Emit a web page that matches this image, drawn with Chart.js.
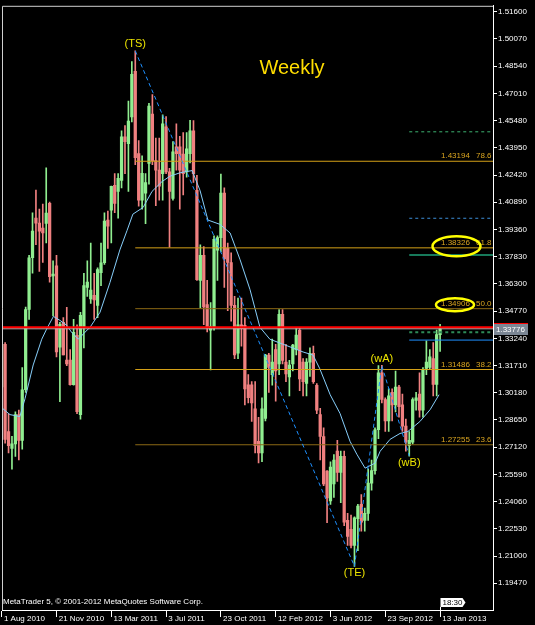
<!DOCTYPE html>
<html>
<head>
<meta charset="utf-8">
<title>EURUSD Weekly</title>
<script src="https://cdn.jsdelivr.net/npm/chart.js@4.4.1/dist/chart.umd.min.js"></script>
<style>
  html, body { margin: 0; padding: 0; background: #000; }
  canvas { display: block; }
</style>
</head>
<body>
<canvas id="chart" width="535" height="625"></canvas>
<script>
// weekly bars, bar 0 = week of 1 Aug 2010, bar 128 = week of 13 Jan 2013
const opens = [
  1.3050, 1.3290, 1.2800, 1.2705, 1.2730, 1.2895, 1.2750, 1.3035, 1.3486, 1.3777,
  1.4000, 1.3972, 1.3944, 1.3970, 1.4083, 1.3675, 1.3732, 1.3274, 1.3414, 1.3202,
  1.3202, 1.3063, 1.3341, 1.2895, 1.3390, 1.3610, 1.3545, 1.3565, 1.3509, 1.3693,
  1.3749, 1.3989, 1.4044, 1.4184, 1.4150, 1.4212, 1.4457, 1.4418, 1.4569, 1.4825,
  1.4362, 1.4100, 1.4140, 1.4307, 1.4585, 1.4323, 1.4270, 1.4250, 1.4513, 1.4260,
  1.4111, 1.4401, 1.4400, 1.4360, 1.4260, 1.4362, 1.4491, 1.4156, 1.3650, 1.3790,
  1.3514, 1.3370, 1.3386, 1.3820, 1.3890, 1.4140, 1.3830, 1.3750, 1.3509, 1.3240,
  1.3400, 1.3397, 1.3063, 1.3063, 1.2928, 1.2745, 1.2680, 1.2873, 1.3230, 1.3120,
  1.3260, 1.3180, 1.3459, 1.3191, 1.3107, 1.3180, 1.3260, 1.3369, 1.3190, 1.3070,
  1.3190, 1.3240, 1.3060, 1.2895, 1.2772, 1.2577, 1.2410, 1.2505, 1.2690, 1.2570,
  1.2660, 1.2300, 1.2250, 1.2160, 1.2310, 1.2390, 1.2300, 1.2340, 1.2510, 1.2580,
  1.2810, 1.3130, 1.2980, 1.2860, 1.3020, 1.2950, 1.3050, 1.2950, 1.2830, 1.2720,
  1.2740, 1.2975, 1.3010, 1.2920, 1.3155, 1.3160, 1.3210, 1.3065, 1.3345
];
const highs = [
  1.3333, 1.3300, 1.2900, 1.2773, 1.2910, 1.2920, 1.3160, 1.3500, 1.3790, 1.4030,
  1.4157, 1.4050, 1.4078, 1.4282, 1.4090, 1.3760, 1.3790, 1.3414, 1.3440, 1.3498,
  1.3260, 1.3430, 1.3400, 1.3470, 1.3690, 1.3760, 1.3860, 1.3690, 1.3720, 1.3860,
  1.4030, 1.4040, 1.4180, 1.4250, 1.4250, 1.4490, 1.4520, 1.4658, 1.4880, 1.4940,
  1.4435, 1.4350, 1.4250, 1.4645, 1.4695, 1.4450, 1.4450, 1.4580, 1.4570, 1.4280,
  1.4430, 1.4530, 1.4460, 1.4480, 1.4480, 1.4550, 1.4548, 1.4240, 1.3850, 1.3840,
  1.3650, 1.3525, 1.3900, 1.3900, 1.4247, 1.4170, 1.3860, 1.3805, 1.3560, 1.3550,
  1.3550, 1.3440, 1.3120, 1.3080, 1.3080, 1.2880, 1.2990, 1.3234, 1.3240, 1.3320,
  1.3290, 1.3486, 1.3486, 1.3290, 1.3200, 1.3290, 1.3385, 1.3385, 1.3210, 1.3210,
  1.3270, 1.3280, 1.3070, 1.2930, 1.2820, 1.2580, 1.2630, 1.2670, 1.2750, 1.2690,
  1.2690, 1.2340, 1.2330, 1.2320, 1.2390, 1.2445, 1.2370, 1.2590, 1.2640, 1.2820,
  1.3170, 1.3172, 1.2990, 1.3040, 1.3040, 1.3140, 1.3060, 1.3010, 1.2870, 1.2800,
  1.2990, 1.3020, 1.3130, 1.3160, 1.3310, 1.3260, 1.3300, 1.3370, 1.3403
];
const lows = [
  1.3040, 1.2735, 1.2680, 1.2588, 1.2660, 1.2640, 1.2700, 1.3020, 1.3430, 1.3690,
  1.3850, 1.3700, 1.3750, 1.3860, 1.3640, 1.3450, 1.3220, 1.2968, 1.3230, 1.3170,
  1.3060, 1.3060, 1.2900, 1.2870, 1.3270, 1.3560, 1.3520, 1.3430, 1.3440, 1.3620,
  1.3740, 1.3830, 1.3860, 1.4030, 1.4000, 1.4170, 1.4250, 1.4150, 1.4540, 1.4300,
  1.4067, 1.4050, 1.3968, 1.4190, 1.4300, 1.4070, 1.4100, 1.4100, 1.4250, 1.3837,
  1.4100, 1.4270, 1.4050, 1.4130, 1.4230, 1.4310, 1.4200, 1.3650, 1.3495, 1.3400,
  1.3360, 1.3146, 1.3370, 1.3650, 1.3810, 1.3610, 1.3480, 1.3420, 1.3210, 1.3210,
  1.3280, 1.2950, 1.2960, 1.2856, 1.2680, 1.2624, 1.2630, 1.2860, 1.3020, 1.3060,
  1.2970, 1.3120, 1.3180, 1.3080, 1.3000, 1.3140, 1.3230, 1.3030, 1.3000, 1.3000,
  1.3110, 1.3070, 1.2900, 1.2640, 1.2495, 1.2288, 1.2390, 1.2430, 1.2520, 1.2400,
  1.2270, 1.2160, 1.2145, 1.2042, 1.2130, 1.2240, 1.2240, 1.2300, 1.2470, 1.2560,
  1.2760, 1.2960, 1.2800, 1.2800, 1.2860, 1.2910, 1.2880, 1.2800, 1.2690, 1.2662,
  1.2730, 1.2920, 1.2880, 1.2880, 1.3120, 1.3150, 1.3000, 1.3000, 1.3250
];
const closes = [
  1.3290, 1.2756, 1.2720, 1.2730, 1.2895, 1.2750, 1.3035, 1.3486, 1.3777, 1.3927,
  1.3972, 1.3927, 1.3916, 1.4028, 1.3670, 1.3685, 1.3247, 1.3403, 1.3230, 1.3180,
  1.3063, 1.3358, 1.2912, 1.3453, 1.3620, 1.3640, 1.3595, 1.3540, 1.3710, 1.3749,
  1.3983, 1.3955, 1.4178, 1.4083, 1.4223, 1.4457, 1.4430, 1.4546, 1.4808, 1.4340,
  1.4100, 1.4251, 1.4200, 1.4630, 1.4323, 1.4270, 1.4180, 1.4530, 1.4260, 1.4150,
  1.4373, 1.4362, 1.4270, 1.4250, 1.4390, 1.4491, 1.4250, 1.3654, 1.3790, 1.3500,
  1.3386, 1.3390, 1.3880, 1.3890, 1.4140, 1.3770, 1.3750, 1.3509, 1.3230, 1.3400,
  1.3380, 1.3040, 1.2990, 1.2960, 1.2720, 1.2680, 1.2928, 1.3230, 1.3160, 1.3190,
  1.3140, 1.3459, 1.3200, 1.3124, 1.3174, 1.3286, 1.3342, 1.3096, 1.3080, 1.3190,
  1.3240, 1.3080, 1.2920, 1.2772, 1.2505, 1.2427, 1.2600, 1.2640, 1.2570, 1.2660,
  1.2290, 1.2210, 1.2160, 1.2315, 1.2380, 1.2290, 1.2340, 1.2510, 1.2580, 1.2810,
  1.3130, 1.2980, 1.2860, 1.3000, 1.2950, 1.3050, 1.2940, 1.2830, 1.2740, 1.2750,
  1.2980, 1.2990, 1.2920, 1.3150, 1.3190, 1.3220, 1.3065, 1.3345, 1.33776
];

// moving average (bar index, price)
const maIdx = [0, 2.4, 5.3, 6.8, 9.2, 11.7, 13.1, 15.1, 17.0, 19.0, 20.4, 22.4, 24.3,
  25.8, 28.7, 31.6, 34.5, 36.6, 38.3, 41.3, 43.9, 46.8, 49.1, 52.1, 55.6, 57.9,
  60.2, 63.7, 66.7, 69.6, 72.5, 75.4, 78.3, 82.1, 85.1, 88.0, 90.9, 92.9, 95.9,
  98.8, 101.7, 103.7, 106.1, 109.0, 110.5, 113.4, 116.3, 118.6, 122.1, 125.1, 127.7];
const maVals = [1.2934, 1.2895, 1.2884, 1.2984, 1.3174, 1.3319, 1.3375, 1.3447, 1.3425,
  1.3397, 1.3358, 1.3319, 1.3358, 1.3386, 1.3470, 1.3637, 1.3821, 1.3930, 1.4022,
  1.4060, 1.4150, 1.4205, 1.4235, 1.4255, 1.4267, 1.4156, 1.3989, 1.3965, 1.3916,
  1.3766, 1.3598, 1.3386, 1.3319, 1.3291, 1.3269, 1.3247, 1.3230, 1.3152, 1.3007,
  1.2901, 1.2745, 1.2672, 1.2594, 1.2622, 1.2689, 1.2756, 1.2789, 1.2800, 1.2856,
  1.2923, 1.3007];

// zigzag turning points
const zzIdx = [39, 103, 111, 119];
const zzVals = [1.4940, 1.2042, 1.3170, 1.2662];
const zzNames = ['(TS)', '(TE)', '(wA)', '(wB)'];

// fibonacci retracement of TS..TE
const fibVals = [1.43194, 1.38326, 1.34906, 1.31486, 1.27255];
const fibPct = ['78.6', '61.8', '50.0', '38.2', '23.6'];

// short levels drawn from the wB bar
const levelVals = [1.4485, 1.3999, 1.3793, 1.3358, 1.3314];

const redLevel = 1.33866;
const bidPrice = 1.33776;

const xTickIdx = [0, 16, 32, 48, 64, 80, 96, 112, 128];
const xTickLabels = ['1 Aug 2010', '21 Nov 2010', '13 Mar 2011', '3 Jul 2011', '23 Oct 2011',
  '12 Feb 2012', '3 Jun 2012', '23 Sep 2012', '13 Jan 2013'];
const yTicks = [1.19470, 1.21000, 1.22530, 1.24060, 1.25590, 1.27120, 1.28650, 1.30180,
  1.31710, 1.33240, 1.34770, 1.36300, 1.37830, 1.39360, 1.40890, 1.42420, 1.43950,
  1.45480, 1.47010, 1.48540, 1.50070, 1.51600];

const X_MIN = 0.09, X_MAX = 143.45;
const Y_MIN = 1.17964, Y_MAX = 1.51935;

const FONT = '"Liberation Sans", Arial, sans-serif';
const BULL = '#90ee90', BEAR = '#f08080';

const candleColors = closes.map((c, i) => c >= opens[i] ? BULL : BEAR);

function hline(v, from) {
  return [{ x: from, y: v }, { x: X_MAX, y: v }];
}

function lineSet(data, color, extra) {
  return Object.assign({
    type: 'line', data: data, borderColor: color, borderWidth: 1,
    pointRadius: 0, tension: 0, fill: false
  }, extra || {});
}

const datasets = [];

// current price lines (red above the grey bid line)
datasets.push(lineSet(hline(redLevel, X_MIN), '#ff0000', { borderWidth: 2, order: 1 }));
datasets.push(lineSet(hline(bidPrice, X_MIN), '#c0c0c0', { order: 1 }));

// short levels
const levelStyles = [
  { color: '#3cb371', dash: [3, 3], width: 1 },
  { color: '#3c8fd8', dash: [3, 3], width: 1 },
  { color: '#1fa37a', dash: [], width: 1.5 },
  { color: '#2e8b57', dash: [3, 3], width: 2 },
  { color: '#1e90ff', dash: [], width: 1 }
];
levelVals.forEach((v, k) => {
  const st = levelStyles[k];
  datasets.push(lineSet(hline(v, zzIdx[3]), st.color, { borderDash: st.dash, borderWidth: st.width, order: 2 }));
});

// zigzag
datasets.push(lineSet(zzIdx.map((x, k) => ({ x: x, y: zzVals[k] })), '#1e90ff', { borderDash: [4, 3], order: 3 }));

// fibonacci levels
const fibColors = ['#d4a017', '#d4a017', '#8b6914', '#d4a017', '#8b6914'];
fibVals.forEach((v, k) => {
  datasets.push(lineSet(hline(v, zzIdx[0]), fibColors[k], { order: 4 }));
});

// moving average
datasets.push(lineSet(maIdx.map((x, k) => ({ x: x, y: maVals[k] })), '#87cefa', { order: 5 }));

// candle bodies and wicks as floating bars
datasets.push({
  type: 'bar',
  data: opens.map((o, i) => ({ x: i, y: [o, closes[i]] })),
  backgroundColor: candleColors,
  barThickness: 2.6,
  minBarLength: 1,
  grouped: false,
  order: 20
});
datasets.push({
  type: 'bar',
  data: lows.map((l, i) => ({ x: i, y: [l, highs[i]] })),
  backgroundColor: candleColors,
  barThickness: 1,
  grouped: false,
  order: 21
});

const overlay = {
  id: 'overlay',
  afterDatasetsDraw(chart) {
    const { ctx, chartArea: a, scales: { x, y } } = chart;
    ctx.save();
    ctx.beginPath();
    ctx.rect(a.left, a.top, a.right - a.left, a.bottom - a.top);
    ctx.clip();

    // fib price labels
    ctx.font = '8px ' + FONT;
    ctx.fillStyle = '#daa520';
    ctx.textBaseline = 'middle';
    ctx.textAlign = 'left';
    fibVals.forEach((v, k) => {
      const py = y.getPixelForValue(v) - 5;
      ctx.fillText(v.toFixed(5), a.right - 52, py);
      ctx.fillText(fibPct[k], a.right - 17, py);
    });

    // yellow rings round two of them
    ctx.strokeStyle = '#ffff00';
    ctx.lineWidth = 2.5;
    [[1, 36.5, 1.5, 24, 10], [2, 38, 4, 19, 6.5]].forEach(r => {
      const py = y.getPixelForValue(fibVals[r[0]]) - r[2];
      ctx.beginPath();
      ctx.ellipse(a.right - r[1], py, r[3], r[4], 0, 0, Math.PI * 2);
      ctx.stroke();
    });

    // wave names
    ctx.font = '11px ' + FONT;
    ctx.fillStyle = '#ece400';
    ctx.textAlign = 'center';
    zzNames.forEach((n, k) => {
      const px = x.getPixelForValue(zzIdx[k]);
      const py = y.getPixelForValue(zzVals[k]) + (k % 2 === 0 ? -7 : 7);
      ctx.fillText(n, px, py);
    });

    ctx.font = '20px ' + FONT;
    ctx.fillStyle = '#ffdd00';
    ctx.fillText('Weekly', 292, 68);

    ctx.font = '8px ' + FONT;
    ctx.fillStyle = '#ffffff';
    ctx.textAlign = 'left';
    ctx.textBaseline = 'alphabetic';
    ctx.fillText('MetaTrader 5, \u00a9 2001-2012 MetaQuotes Software Corp.', a.left + 1, 604);
    ctx.restore();
  },
  afterDraw(chart) {
    const { ctx, chartArea: a, scales: { x, y } } = chart;
    ctx.save();
    // frame
    ctx.strokeStyle = '#d0d0d0';
    ctx.lineWidth = 1;
    ctx.beginPath();
    ctx.moveTo(a.left + 0.5, a.bottom);
    ctx.lineTo(a.left + 0.5, a.top + 0.5);
    ctx.lineTo(a.right, a.top + 0.5);
    ctx.stroke();

    // bid price tag on the axis
    const py = Math.round(y.getPixelForValue(bidPrice));
    ctx.fillStyle = '#7b8694';
    ctx.fillRect(a.right + 1, py - 5, 34, 11);
    ctx.fillStyle = '#ff0000';
    ctx.fillRect(a.right + 1, py - 6, 34, 1);
    ctx.fillStyle = '#ffffff';
    ctx.font = '8px ' + FONT;
    ctx.textBaseline = 'middle';
    ctx.fillText(bidPrice.toFixed(5), a.right + 3, py + 0.5);

    // time tag
    const tx = Math.round(x.getPixelForValue(xTickIdx[xTickIdx.length - 1])) + 0.5;
    ctx.fillStyle = '#ffffff';
    ctx.beginPath();
    ctx.moveTo(tx, 598);
    ctx.lineTo(tx + 22, 598);
    ctx.lineTo(tx + 25, 602.5);
    ctx.lineTo(tx + 22, 607);
    ctx.lineTo(tx, 607);
    ctx.closePath();
    ctx.fill();
    ctx.strokeStyle = '#ffffff';
    ctx.beginPath();
    ctx.moveTo(tx, 607);
    ctx.lineTo(tx, a.bottom);
    ctx.stroke();
    ctx.fillStyle = '#000000';
    ctx.fillText('18:30', tx + 2, 603);
    ctx.restore();
  }
};

new Chart(document.getElementById('chart'), {
  type: 'bar',
  data: { datasets: datasets },
  options: {
    responsive: false,
    animation: false,
    events: [],
    layout: { padding: { left: 2, top: 1, right: 0, bottom: 0 } },
    plugins: { legend: { display: false }, tooltip: { enabled: false } },
    scales: {
      x: {
        type: 'linear',
        min: X_MIN,
        max: X_MAX,
        offset: false,
        afterFit: s => { s.height = 15; },
        afterBuildTicks: s => { s.ticks = xTickIdx.map(v => ({ value: v })); },
        grid: { drawOnChartArea: false, offset: false, color: '#ffffff', tickLength: 7 },
        border: { color: '#ffffff' },
        ticks: {
          color: '#ffffff',
          font: { family: FONT, size: 8 },
          align: 'start',
          padding: -3,
          autoSkip: false,
          maxRotation: 0,
          callback: (v, i) => ' ' + xTickLabels[i]
        }
      },
      y: {
        type: 'linear',
        position: 'right',
        min: Y_MIN,
        max: Y_MAX,
        afterFit: s => { s.width = 42; },
        afterBuildTicks: s => { s.ticks = yTicks.map(v => ({ value: v })); },
        grid: { drawOnChartArea: false, color: '#ffffff', tickLength: 4 },
        border: { color: '#ffffff' },
        ticks: {
          color: '#ffffff',
          font: { family: FONT, size: 8 },
          padding: 1,
          autoSkip: false,
          callback: v => v.toFixed(5)
        }
      }
    }
  },
  plugins: [overlay]
});
</script>
</body>
</html>
